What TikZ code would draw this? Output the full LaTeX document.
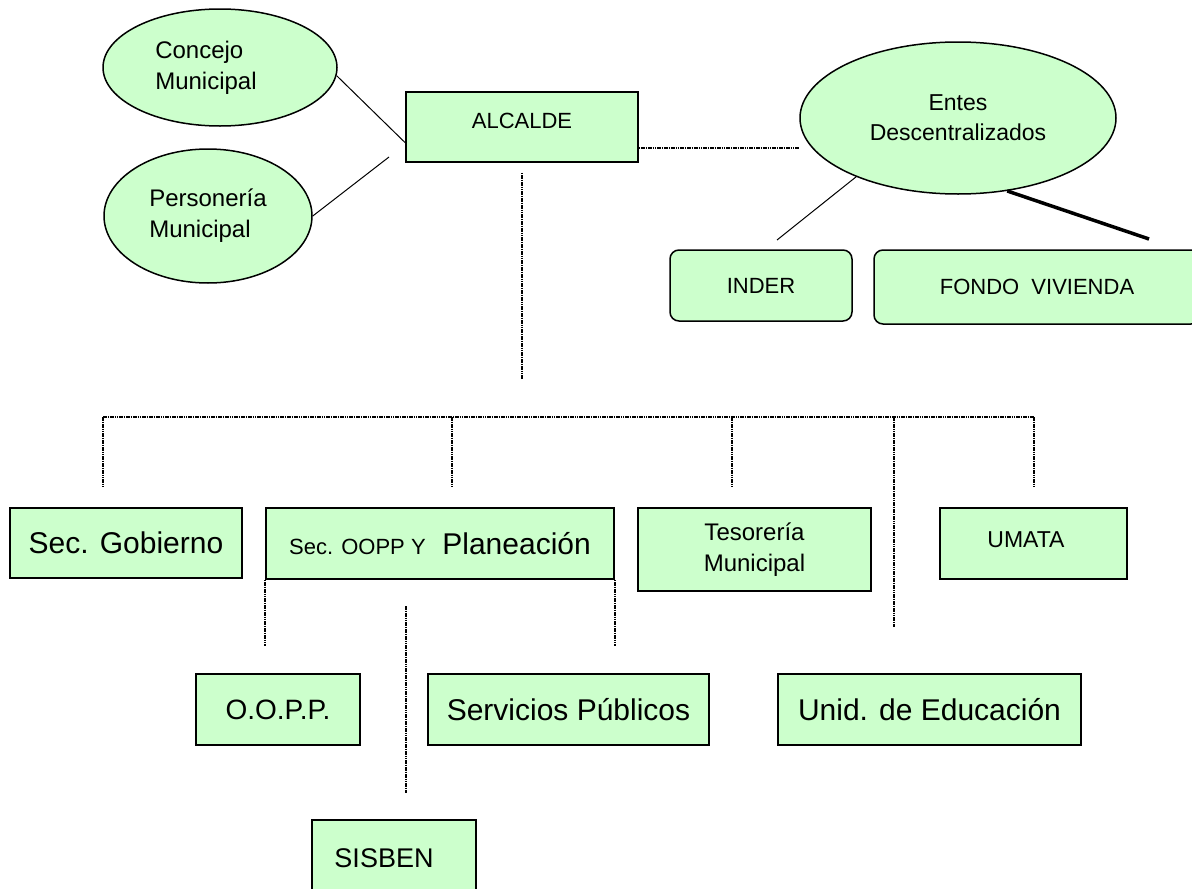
\documentclass[tikz,border=0pt]{standalone}
\usepackage{fontspec}
\setmainfont{Liberation Sans}
\usepackage{tikz}
\usetikzlibrary{shapes.geometric}
\definecolor{unitgreen}{HTML}{CCFFCC}
\newcommand{\unitfont}{\fontsize{30}{34}\selectfont}
\newcommand{\ovalfont}{\fontsize{24}{31}\selectfont}
\newcommand{\capfont}{\fontsize{22}{26}\selectfont}
\tikzset{
  oval/.style={ellipse, draw=black, line width=1.5pt, fill=unitgreen, inner sep=0pt, font=\ovalfont},
  orgbox/.style={rectangle, draw=black, line width=1.5pt, fill=unitgreen, inner sep=0pt, font=\unitfont},
  softbox/.style={orgbox, rounded corners=9pt, font=\capfont},
  dotline/.style={line width=1.7pt, dash pattern=on 1.6pt off 0.7pt},
  thinline/.style={line width=1pt}
}

\begin{document}
\begin{tikzpicture}[x=1pt,y=-1pt]
\clip (0,0) rectangle (1192,889);
\fill[white] (0,0) rectangle (1192,889);

% top: alcalde, councils, entes
\node[oval, minimum width=234pt, minimum height=117pt, align=left] (concejo) at (220,67.5) {Concejo\\Municipal\hspace*{28pt}};
\node[oval, minimum width=208pt, minimum height=134pt, align=left] (personeria) at (208,216) {Personería\\Municipal};
\node[orgbox, minimum width=232pt, minimum height=70pt, font=\capfont, text height=16pt, text depth=14pt] (alcalde) at (522,127) {ALCALDE};
\node[oval, minimum width=316pt, minimum height=152pt, align=center, font=\fontsize{23}{30}\selectfont] (entes) at (958,118) {Entes\\Descentralizados};
\node[softbox, minimum width=182pt, minimum height=71pt] (inder) at (761,285.5) {INDER};
\node[softbox, minimum width=326pt, minimum height=74pt] (fondo) at (1037,287) {FONDO\ \ VIVIENDA};

\coordinate (pend) at (389,157);
\coordinate (iend) at (777,240);
\coordinate (fend) at (1149,239);
\draw[thinline] (concejo.-4) -- ([yshift=20pt]alcalde.south west);
\draw[thinline] (personeria.east) -- (pend);
\coordinate (a1) at ([yshift=-21pt]alcalde.east);
\draw[dotline] (a1) -- (a1 -| entes.west);
\draw[thinline] (entes.210) -- (iend);
\draw[line width=3.5pt] (entes.-56) -- (fend);

% second level
\node[orgbox, minimum width=232pt, minimum height=70pt] (gobierno) at (126,543) {Sec. Gobierno};
\node[orgbox, minimum width=348pt, minimum height=71pt] (oopp) at (440,543.5) {{\capfont Sec. OOPP Y}\ \ Planeación};
\node[orgbox, minimum width=233pt, minimum height=83pt, font=\ovalfont, align=center] (tesoreria) at (754.5,549.5) {Tesorería\\Municipal};
\node[orgbox, minimum width=187pt, minimum height=71pt, font=\fontsize{23}{26}\selectfont, text height=17pt, text depth=9pt] (umata) at (1033.5,543.5) {UMATA\hspace*{15pt}};

% third level
\node[orgbox, minimum width=164pt, minimum height=71pt, font=\fontsize{28}{32}\selectfont] (opp) at (278,709.5) {O.O.P.P.};
\node[orgbox, minimum width=281pt, minimum height=71pt] (servicios) at (568.5,709.5) {Servicios Públicos};
\node[orgbox, minimum width=303pt, minimum height=71pt] (educacion) at (929.5,709.5) {Unid. de Educación};
\node[orgbox, minimum width=164pt, minimum height=76pt, font=\fontsize{27}{32}\selectfont] (sisben) at (394,858) {SISBEN\hspace*{20pt}};

% tree lines
\coordinate (hub) at (522,379);
\coordinate (busw) at (103,417);
\coordinate (buse) at (1034,417);
\draw[dotline] ([yshift=-10pt]alcalde.south) -- (hub);
\draw[dotline] (busw) -- (buse);
\foreach \x in {103,452,732,1034} {
  \draw[dotline] (\x,417) -- (\x,487);
}
\draw[dotline] (894,417) -- (894,627);
\draw[dotline] (oopp.south west) -- ++(0,66);
\draw[dotline] (oopp.south east) -- ++(0,66);
\coordinate (stop) at (406,606);
\coordinate (sbot) at (406,793);
\draw[dotline] (stop) -- (sbot);
\end{tikzpicture}
\end{document}
